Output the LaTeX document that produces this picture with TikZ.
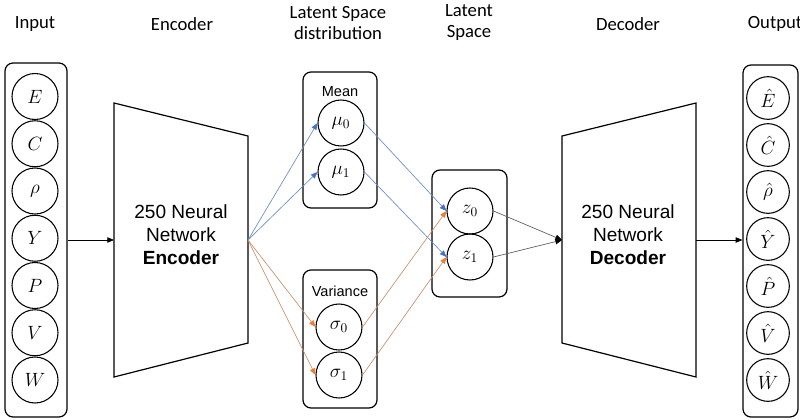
\documentclass[tikz,border=0pt]{standalone}
\usepackage{fontspec}
\setmainfont{Liberation Sans}
\newfontfamily\titlefont{Carlito}
\usetikzlibrary{arrows.meta}
\definecolor{blueline}{RGB}{110,140,195}
\definecolor{bluehead}{RGB}{68,114,196}
\definecolor{orangeline}{RGB}{200,145,110}
\definecolor{orangehead}{RGB}{237,125,49}
\definecolor{grayline}{RGB}{90,90,90}
\begin{document}
\begin{tikzpicture}[x=0.75pt,y=-0.75pt,
  title/.style={font=\titlefont\fontsize{14}{15.75}\selectfont, align=center, inner sep=0pt},
  body/.style={font=\fontsize{14.3}{17.25}\selectfont, align=center, inner sep=0pt},
  sublbl/.style={font=\fontsize{10.9}{12}\selectfont, inner sep=0pt},
  var/.style={circle, draw, line width=0.8pt, minimum size=34.5pt, inner sep=0pt, font=\fontsize{14.4}{15}\selectfont},
  ovar/.style={var, minimum size=32pt},
  box/.style={draw, line width=0.9pt, rounded corners=6pt, inner sep=0pt},
  trap/.style={draw, line width=0.9pt, line join=miter},
  conn/.style={line width=0.5pt, -{Triangle[length=5pt,width=4pt]}},
  bconn/.style={line width=0.5pt, draw=blueline, -{Triangle[length=5pt,width=4pt,color=bluehead]}},
  oconn/.style={line width=0.5pt, draw=orangeline, -{Triangle[length=5pt,width=4pt,color=orangehead]}},
  gconn/.style={line width=0.5pt, draw=grayline, -{Triangle[length=5pt,width=4pt,color=black]}}
]
\useasboundingbox (0,0) rectangle (800,419);

% titles
\node[title] (tin) at (35,24) {Input};
\node[title] (tenc) at (182,24) {Encoder};
\node[title] (tlsd) at (338,23) {Latent Space\\distribution};
\node[title] (tls) at (469,23) {Latent\\Space};
\node[title] (tdec) at (628,24) {Decoder};
\node[title] (tout) at (775,24) {Output};

% input
\node[box, minimum width=46.5pt, minimum height=265.5pt] (inbox) at (36,240) {};
\node[var] (iE) at (35,96.5) {$E$};
\node[var] (iC) at (35,143.75) {$C$};
\node[var] (irho) at (35,191) {$\rho$};
\node[var] (iY) at (35,238.25) {$Y$};
\node[var] (iP) at (35,285.5) {$P$};
\node[var] (iV) at (35,332.75) {$V$};
\node[var] (iW) at (35,380) {$W$};

% encoder
\coordinate (encTL) at (114,103);
\coordinate (encTR) at (248,136);
\coordinate (encBR) at (248,343);
\coordinate (encBL) at (114,377);
\coordinate (encL) at (114,240);
\coordinate (encR) at (248,240);
\draw[trap] (encTL) -- (encTR) -- (encBR) -- (encBL) -- cycle;
\node[body] (enctext) at (181,235) {250 Neural\\Network\\\textbf{Encoder}};

% mean / variance
\node[box, minimum width=55.5pt, minimum height=102pt] (meanbox) at (340,140) {};
\node[sublbl] (meanlbl) at (340,92) {Mean};
\node[var] (mu0) at (341,123) {$\mu_0$};
\node[var] (mu1) at (341,172) {$\mu_1$};
\node[box, minimum width=55.5pt, minimum height=103.5pt] (varbox) at (340,339) {};
\node[sublbl] (varlbl) at (340,291) {Variance};
\node[var] (s0) at (339,327) {$\sigma_0$};
\node[var] (s1) at (339,375) {$\sigma_1$};

% latent
\node[box, minimum width=56.25pt, minimum height=95.25pt] (zbox) at (469.5,233.5) {};
\node[var] (z0) at (470,211) {$z_0$};
\node[var] (z1) at (470,257) {$z_1$};

% decoder
\coordinate (decTL) at (562,136);
\coordinate (decTR) at (696,103);
\coordinate (decBR) at (696,377);
\coordinate (decBL) at (562,343);
\coordinate (decL) at (562,240);
\coordinate (decR) at (696,240);
\draw[trap] (decTL) -- (decTR) -- (decBR) -- (decBL) -- cycle;
\node[body] (dectext) at (628,235) {250 Neural\\Network\\\textbf{Decoder}};

% output
\node[box, minimum width=41.25pt, minimum height=264pt] (outbox) at (770.5,241) {};
\node[ovar] (oE) at (768,98) {$\hat{E}$};
\node[ovar] (oC) at (768,145) {$\hat{C}$};
\node[ovar] (orho) at (768,192) {$\hat{\rho}$};
\node[ovar] (oY) at (768,239) {$\hat{Y}$};
\node[ovar] (oP) at (768,286) {$\hat{P}$};
\node[ovar] (oV) at (768,333) {$\hat{V}$};
\node[ovar] (oW) at (768,380) {$\hat{W}$};

% connectors
\draw[conn] (inbox.east) -- (encL);
\draw[bconn] (encR) -- (mu0.west);
\draw[bconn] (encR) -- (mu1.west);
\draw[oconn] (encR) -- (s0.west);
\draw[oconn] (encR) -- (s1.west);
\draw[bconn] (mu0.east) -- (z0.west);
\draw[bconn] (mu1.east) -- (z1.west);
\draw[oconn] (s0.east) -- (z0.west);
\draw[oconn] (s1.east) -- (z1.west);
\draw[gconn] (z0.east) -- (decL);
\draw[gconn] (z1.east) -- (decL);
\draw[conn] (decR) -- (decR -| outbox.west);
\end{tikzpicture}
\end{document}
